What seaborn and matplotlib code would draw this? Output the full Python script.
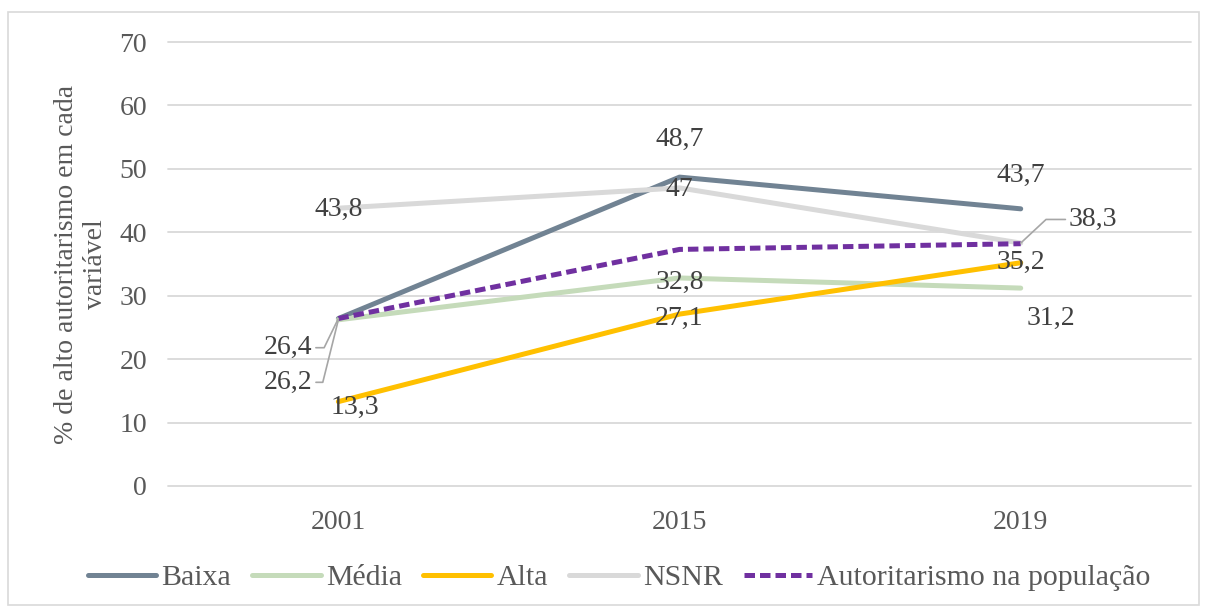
import matplotlib
matplotlib.use("Agg")
import matplotlib.pyplot as plt
import seaborn as sns
from matplotlib.patches import Rectangle

# dados
anos = ["2001", "2015", "2019"]
baixa = [26.4, 48.7, 43.7]
media = [26.2, 32.8, 31.2]
alta = [13.3, 27.1, 35.2]
nsnr = [43.8, 47.0, 38.3]
populacao = [26.4, 37.3, 38.2]
nomes = ["Baixa", "Média", "Alta", "NSNR", "Autoritarismo na população"]
yticks = [0, 10, 20, 30, 40, 50, 60, 70]
ylabel = "% de alto autoritarismo em cada\nvariável"

cores = ["#718393", "#C5DBBA", "#FFC000", "#D9D9D9", "#7030A0"]

# deslocamento dos rotulos (pontos) e angulo da linha de chamada
offsets = {
    "Baixa": [(-36, -21, 64), (0, 27, None), (0, 24, None)],
    "Média": [(-36, -45, 76), (0, -3, None), (22, -22, None)],
    "Alta": [(12, -4, None), (0, -3, None), (0, 0, None)],
    "NSNR": [(0, -1, None), (0, -1, None), (52, 17, 43)],
}

sns.set_theme(style="white")
plt.rcParams["font.family"] = ["Liberation Serif", "DejaVu Serif"]

fig, ax = plt.subplots(figsize=(12.07, 6.09), dpi=100)
fig.subplots_adjust(left=0.139, right=0.987, bottom=0.202, top=0.931)

dados = [baixa, media, alta, nsnr, populacao]
for nome, vals, cor in zip(nomes, dados, cores):
    sns.lineplot(x=anos, y=vals, ax=ax, color=cor, lw=3.6, label=nome,
                 sort=False, solid_capstyle="round")
ax.lines[-1].set_linestyle((0, (2.1, 1.0)))

def fmt(v):
    return f"{v:g}".replace(".", ",")

for nome, vals in zip(nomes[:4], dados[:4]):
    for i, v in enumerate(vals):
        dx, dy, ang = offsets[nome][i]
        props = None
        if ang is not None:
            props = dict(arrowstyle="-", color="#A6A6A6", lw=1.2,
                         shrinkA=0, shrinkB=0,
                         connectionstyle=f"angle,angleA=0,angleB={ang},rad=0")
        ax.annotate(fmt(v), xy=(i, v), xytext=(dx, dy), textcoords="offset points",
                    ha="center", va="center", fontsize=20, color="#404040",
                    arrowprops=props, zorder=5)

ax.set_xlim(-0.5, 2.5)
ax.set_ylim(0, 70)
ax.set_yticks(yticks)
ax.yaxis.grid(True, color="#D9D9D9", lw=1.3)
for gl in ax.get_ygridlines():
    gl.set_clip_on(False)
ax.set_axisbelow(True)
for s in ax.spines.values():
    s.set_visible(False)
ax.tick_params(axis="both", length=0, labelsize=20, labelcolor="#595959")
ax.tick_params(axis="y", pad=15)
ax.tick_params(axis="x", pad=17)
ax.set_xlabel("")
ax.set_ylabel(ylabel, fontsize=20, color="#595959", labelpad=8)

ax.legend(loc="center", bbox_to_anchor=(0.513, 0.051), bbox_transform=fig.transFigure,
          ncol=5, frameon=False, fontsize=21.5, handlelength=2.3, handletextpad=0.17,
          columnspacing=0.7, labelcolor="#595959")

fig.patches.append(Rectangle((0.0066, 0.0066), 0.9868, 0.9737, transform=fig.transFigure,
                             fill=False, edgecolor="#D9D9D9", lw=1.2))

fig.savefig("out.png", dpi=100)
